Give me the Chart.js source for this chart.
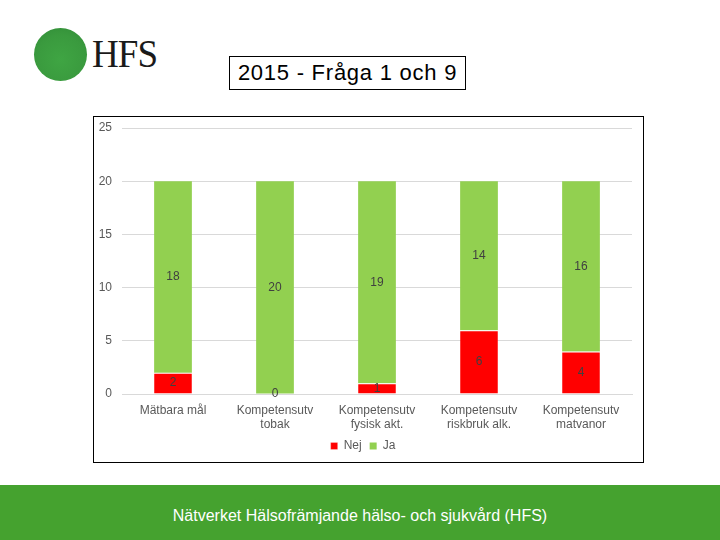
<!DOCTYPE html>
<html>
<head>
<meta charset="utf-8">
<script src="https://cdn.jsdelivr.net/npm/chart.js@4"></script>
<style>
  body { margin: 0; width: 720px; height: 540px; position: relative; background: #fff; font-family: "Liberation Sans", Arial, sans-serif; overflow: hidden; }
  .logo { position: absolute; left: 34px; top: 28px; width: 53px; height: 53px; border-radius: 50%; background: radial-gradient(circle at 50% 60%, #3fa543 0%, #3a9a3e 60%, #2f8a36 100%); }
  .logotext { position: absolute; left: 92px; top: 31px; font-family: "Liberation Serif", "Times New Roman", serif; font-size: 39px; color: #1a1a1a; letter-spacing: -1px; transform: scaleX(0.95); transform-origin: left top; }
  .title { position: absolute; left: 229px; top: 56px; width: 235px; height: 32px; border: 1px solid #000; font-size: 22px; letter-spacing: 0.75px; line-height: 31px; text-align: center; color: #000; }
  .box { position: absolute; left: 93px; top: 116px; width: 549px; height: 345px; border: 1px solid #000; }
  .footer { position: absolute; left: 0; top: 485px; width: 720px; height: 55px; background: #45a22f; color: #fff; font-size: 16px; text-align: center; line-height: 62px; }
</style>
</head>
<body>
<div class="logo"></div>
<div class="logotext">HFS</div>
<div class="title">2015 - Fråga 1 och 9</div>
<div class="box"><canvas id="chart"></canvas></div>
<div class="footer">Nätverket Hälsofrämjande hälso- och sjukvård (HFS)</div>
<script>
const categories = ['Mätbara mål', ['Kompetensutv', 'tobak'], ['Kompetensutv', 'fysisk akt.'], ['Kompetensutv', 'riskbruk alk.'], ['Kompetensutv', 'matvanor']];
const nej = [2, 0, 1, 6, 4];
const ja = [18, 20, 19, 14, 16];
const yTicks = [0, 5, 10, 15, 20, 25];

const font = '"Liberation Sans", Arial, sans-serif';

const segmentLabels = {
  id: 'segmentLabels',
  afterDatasetsDraw(chart) {
    const ctx = chart.ctx;
    ctx.save();
    ctx.font = '12px ' + font;
    ctx.fillStyle = '#404040';
    ctx.textAlign = 'center';
    ctx.textBaseline = 'middle';
    chart.data.datasets.forEach((ds, di) => {
      chart.getDatasetMeta(di).data.forEach((bar, i) => {
        const p = bar.getProps(['x', 'y', 'base'], true);
        ctx.fillText(String(ds.data[i]), p.x, (p.y + p.base) / 2);
      });
    });
    ctx.restore();
  }
};

new Chart(document.getElementById('chart'), {
  type: 'bar',
  data: {
    labels: categories,
    datasets: [
      { label: 'Nej', data: nej, backgroundColor: '#ff0000', borderColor: '#ffffff', borderWidth: { top: 1, left: 0, right: 0, bottom: 0 }, borderSkipped: false },
      { label: 'Ja', data: ja, backgroundColor: '#92d050', borderWidth: 0 }
    ]
  },
  options: {
    responsive: true,
    maintainAspectRatio: false,
    animation: false,
    layout: { padding: { left: 0, right: 11, top: 11, bottom: 0 } },
    datasets: { bar: { barPercentage: 0.37, categoryPercentage: 1 } },
    scales: {
      x: {
        stacked: true,
        grid: { display: false },
        border: { color: '#d9d9d9' },
        ticks: { color: '#595959', font: { size: 12, family: font }, maxRotation: 0, padding: 1 },
        afterFit(scale) {
          scale.height = 38;
          scale.paddingLeft = 0;
          scale.paddingRight = 0;
        }
      },
      y: {
        stacked: true,
        min: 0,
        max: 25,
        afterBuildTicks(axis) { axis.ticks = yTicks.map(v => ({ value: v })); },
        grid: { color: '#d9d9d9', drawTicks: false },
        border: { display: false },
        ticks: { color: '#595959', font: { size: 12, family: font }, padding: 10 },
        afterFit(scale) {
          scale.width = 28;
          scale.paddingTop = 0;
          scale.paddingBottom = 0;
        }
      }
    },
    plugins: {
      legend: {
        position: 'bottom',
        labels: { boxWidth: 7, boxHeight: 7, color: '#595959', font: { size: 12, family: font }, padding: 8 }
      },
      tooltip: { enabled: false }
    }
  },
  plugins: [segmentLabels]
});
</script>
</body>
</html>
